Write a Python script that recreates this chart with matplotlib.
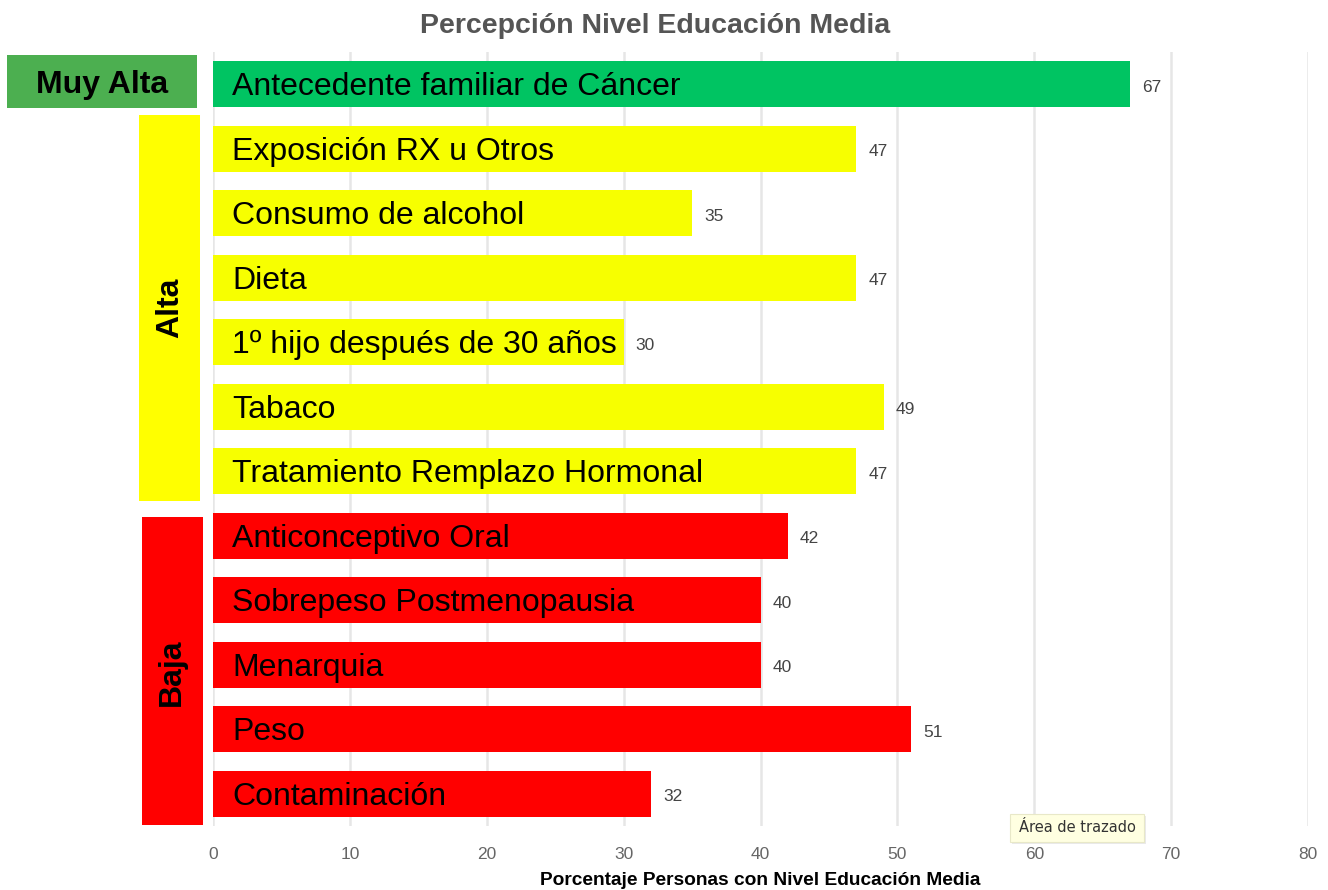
import matplotlib
matplotlib.use("Agg")
import matplotlib.pyplot as plt
from matplotlib.patches import Rectangle

categories = ["Antecedente familiar de Cáncer", "Exposición RX u Otros", "Consumo de alcohol",
              "Dieta", "1º hijo después de 30 años", "Tabaco", "Tratamiento Remplazo Hormonal",
              "Anticonceptivo Oral", "Sobrepeso Postmenopausia", "Menarquia", "Peso", "Contaminación"]
values = [67, 47, 35, 47, 30, 49, 47, 42, 40, 40, 51, 32]
levels = ["Muy Alta", "Alta", "Alta", "Alta", "Alta", "Alta", "Alta",
          "Baja", "Baja", "Baja", "Baja", "Baja"]
xticks = [0, 10, 20, 30, 40, 50, 60, 70, 80]
title = "Percepción Nivel Educación Media"
xlabel = "Porcentaje Personas con Nivel Educación Media"

level_colors = {"Muy Alta": "#00C462", "Alta": "#F7FF00", "Baja": "#FF0000"}

plt.rcParams["font.family"] = ["Liberation Sans", "DejaVu Sans"]

W, H = 1328, 890
fig = plt.figure(figsize=(W / 100, H / 100), dpi=100)
ax = fig.add_axes([213 / W, 1 - 826 / H, (1308 - 213) / W, (826 - 52) / H])

ypos = list(range(len(categories)))
ax.barh(ypos, values, height=0.71, color=[level_colors[l] for l in levels], zorder=2)
ax.set_ylim(len(categories) - 0.5, -0.5)
ax.set_xlim(0, 80)
ax.set_xticks(xticks)
ax.set_xticklabels([str(t) for t in xticks], color="#666666", fontsize=12.5)
ax.tick_params(axis="x", length=0, pad=15)
ax.set_yticks([])
for s in ax.spines.values():
    s.set_visible(False)
ax.grid(axis="x", color="#E6E6E6", linewidth=1.8, zorder=0)
ax.set_xlabel(xlabel, fontsize=13.8, fontweight="bold", color="black", labelpad=7)

for y, (c, v) in enumerate(zip(categories, values)):
    ax.annotate(c, (0, y), xytext=(19, -3), textcoords="offset pixels",
                va="center", ha="left", fontsize=23, color="black", zorder=3)
    ax.annotate(str(v), (v, y), xytext=(12, -3), textcoords="offset pixels",
                va="center", ha="left", fontsize=12.5, color="#444444", zorder=3)

fig.text(655 / W, 1 - 26 / H, title, ha="center", va="center", fontsize=20.5,
         fontweight="bold", color="#555555")

def fbox(x0, y0, x1, y1, color):
    fig.add_artist(Rectangle((x0 / W, 1 - y1 / H), (x1 - x0) / W, (y1 - y0) / H,
                             transform=fig.transFigure, facecolor=color, edgecolor="none"))

fbox(7, 55, 197, 108, "#4CAF50")
fbox(139, 115, 200, 501, "#FFFF00")
fbox(142, 517, 203, 825, "#FF0000")
narrow = ["Liberation Sans Narrow", "Liberation Sans", "DejaVu Sans"]
fig.text(102 / W, 1 - 85 / H, "Muy Alta", ha="center", va="center", fontsize=23,
         fontweight="bold", family=narrow, color="black")
fig.text(170 / W, 1 - 308 / H, "Alta", ha="center", va="center", fontsize=23,
         fontweight="bold", family=narrow, rotation=90, color="black")
fig.text(172 / W, 1 - 672 / H, "Baja", ha="center", va="center", fontsize=23,
         fontweight="bold", family=narrow, rotation=90, color="black")

# tooltip
fig.add_artist(Rectangle((1012 / W, 1 - 844 / H), 134 / W, 28 / H, transform=fig.transFigure,
                         facecolor="#DDDDDD", edgecolor="none", alpha=0.6))
fig.add_artist(Rectangle((1010 / W, 1 - 842 / H), 134 / W, 28 / H, transform=fig.transFigure,
                         facecolor="#FFFFE1", edgecolor="#E8E8C8", linewidth=0.8))
fig.text(1077 / W, 1 - 828 / H, "Área de trazado", ha="center", va="center", fontsize=10.5,
         color="#333333", family=["DejaVu Sans"])

fig.savefig("out.png", dpi=100)
